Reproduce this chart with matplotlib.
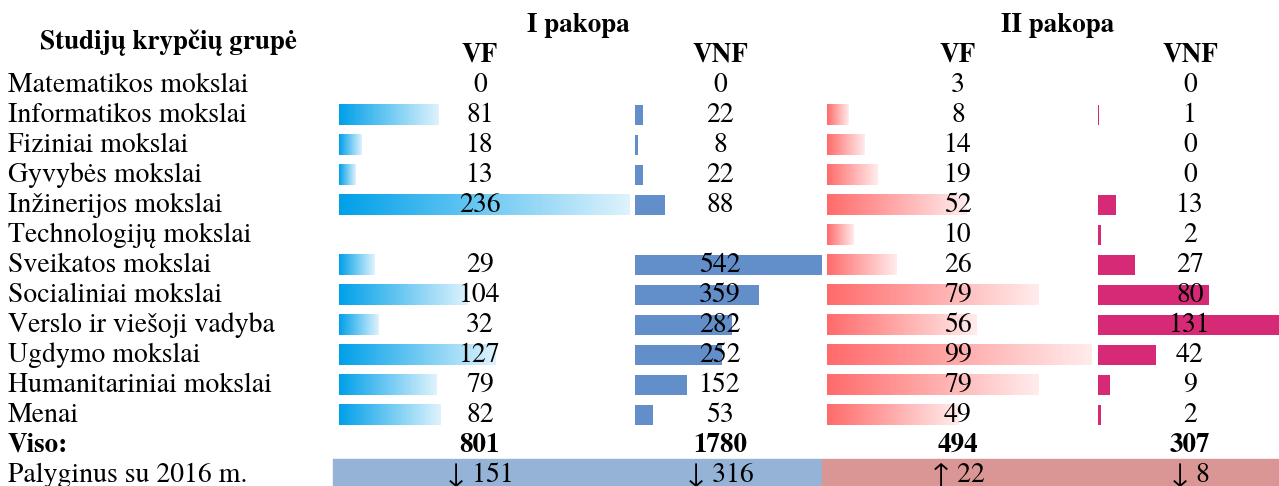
import matplotlib as mpl
mpl.use('Agg')
import matplotlib.pyplot as plt
import numpy as np
from matplotlib.colors import LinearSegmentedColormap

plt.rcParams['font.family'] = ['TeX Gyre Termes', 'Liberation Serif', 'DejaVu Serif']

# duomenys
groups = ['Matematikos mokslai', 'Informatikos mokslai', 'Fiziniai mokslai',
          'Gyvybės mokslai', 'Inžinerijos mokslai', 'Technologijų mokslai',
          'Sveikatos mokslai', 'Socialiniai mokslai', 'Verslo ir viešoji vadyba',
          'Ugdymo mokslai', 'Humanitariniai mokslai', 'Menai']
vf1 = [0, 81, 18, 13, 236, None, 29, 104, 32, 127, 79, 82]
vnf1 = [0, 22, 8, 22, 88, None, 542, 359, 282, 252, 152, 53]
vf2 = [3, 8, 14, 19, 52, 10, 26, 79, 56, 99, 79, 49]
vnf2 = [0, 1, 0, 0, 13, 2, 27, 80, 131, 42, 9, 2]
totals = [801, 1780, 494, 307]
changes = ['↓ 151', '↓ 316', '↑ 22', '↓ 8']
col_names = ['VF', 'VNF', 'VF', 'VNF']
levels = ['I pakopa', 'II pakopa']

W, H = 1279, 486
fig = plt.figure(figsize=(W / 100, H / 100), dpi=100)

# stulpeliu vietos pikseliais: (pradzia, plotis, teksto centras)
cols = [(339, 291, 480), (635, 187, 720), (827, 265, 958), (1098, 181, 1190)]
styles = [('grad', '#00a0e9'), ('solid', '#628fc9'),
          ('grad', '#ff6b6b'), ('solid', '#d62a76')]
series = [vf1, vnf1, vf2, vnf2]
row_top, row_h = 70, 30
n = len(groups)

for (x0, w, _), (kind, color), vals in zip(cols, styles, series):
    ax = fig.add_axes([x0 / W, 1 - (row_top + n * row_h) / H, w / W, n * row_h / H])
    vmax = max(v for v in vals if v is not None)
    cmap = LinearSegmentedColormap.from_list('g', [color, '#ffffff'])
    # pirmai eilutei (Matematikos) juostos nerodomos
    for i, v in enumerate(vals):
        if i == 0 or not v:
            continue
        if kind == 'solid':
            ax.barh(i, v, height=0.68, color=color)
        else:
            grad = np.linspace(0, 0.87, 256).reshape(1, -1)
            ax.imshow(grad, cmap=cmap, vmin=0, vmax=1, aspect='auto',
                      extent=(0, v, i + 0.34, i - 0.34), interpolation='bilinear')
    ax.set_xlim(0, vmax)
    ax.set_ylim(n - 0.5, -0.5)
    ax.axis('off')

# tekstas
tx = fig.add_axes([0, 0, 1, 1], zorder=5)
tx.set_xlim(0, W)
tx.set_ylim(H, 0)
tx.axis('off')

fs = 20
fb = 19.5
tx.text(168, 43, 'Studijų krypčių grupė', ha='center', va='center',
        fontsize=fb, fontweight='bold')
tx.text(578, 25, levels[0], ha='center', va='center', fontsize=fb, fontweight='bold')
tx.text(1058, 25, levels[1], ha='center', va='center', fontsize=fb, fontweight='bold')
for (x0, w, cx), name in zip(cols, col_names):
    tx.text(cx, 55, name, ha='center', va='center', fontsize=fb, fontweight='bold')

for i, g in enumerate(groups):
    y = row_top + row_h * i + row_h / 2
    tx.text(8, y, g, ha='left', va='center', fontsize=fs)
    for (x0, w, cx), vals in zip(cols, series):
        if vals[i] is not None:
            tx.text(cx, y, str(vals[i]), ha='center', va='center', fontsize=fs)

y_tot = row_top + row_h * n + row_h / 2
tx.text(8, y_tot, 'Viso:', ha='left', va='center', fontsize=fb, fontweight='bold')
for (x0, w, cx), t in zip(cols, totals):
    tx.text(cx, y_tot, str(t), ha='center', va='center', fontsize=fb, fontweight='bold')

y_cmp = y_tot + row_h
tx.add_patch(plt.Rectangle((333, y_cmp - 16), 489, 40, color='#95b3d7', zorder=0))
tx.add_patch(plt.Rectangle((822, y_cmp - 16), W - 822, 40, color='#da9694', zorder=0))
tx.text(8, y_cmp, 'Palyginus su 2016 m.', ha='left', va='center', fontsize=fs)
for (x0, w, cx), c in zip(cols, changes):
    tx.text(cx, y_cmp, c, ha='center', va='center', fontsize=fs)

fig.savefig('out.png', dpi=100)
plt.close()
